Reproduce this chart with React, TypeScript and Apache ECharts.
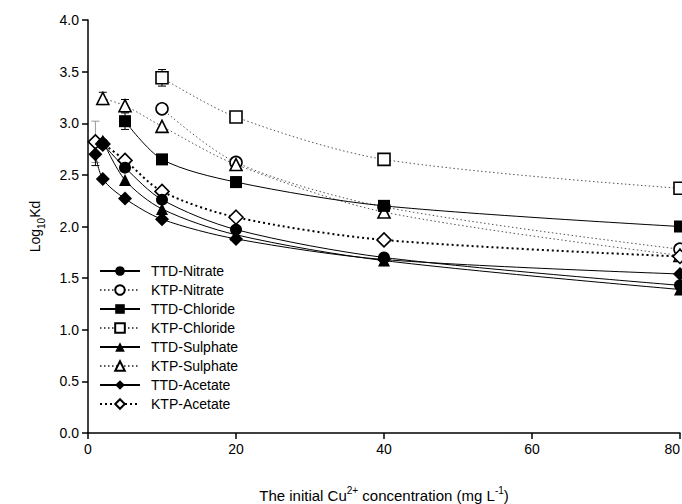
import React, { useEffect, useRef } from "react";
import * as echarts from "echarts";

// Data (x = initial Cu2+ concentration, mg/L; y = Log10 Kd)
const ttdNitrateX = [2, 5, 10, 20, 40, 80];
const ttdNitrateY = [2.8, 2.57, 2.26, 1.97, 1.7, 1.43];
const ktpNitrateX = [10, 20, 40, 80];
const ktpNitrateY = [3.14, 2.62, 2.19, 1.78];
const ttdChlorideX = [5, 10, 20, 40, 80];
const ttdChlorideY = [3.02, 2.65, 2.43, 2.2, 2.0];
const ttdChlorideErr = [0.08, 0, 0.05, 0, 0];
const ktpChlorideX = [10, 20, 40, 80];
const ktpChlorideY = [3.44, 3.06, 2.65, 2.37];
const ktpChlorideErr = [0.08, 0, 0, 0];
const ttdSulphateX = [2, 5, 10, 20, 40, 80];
const ttdSulphateY = [2.83, 2.45, 2.17, 1.92, 1.67, 1.39];
const ktpSulphateX = [2, 5, 10, 20, 40, 80];
const ktpSulphateY = [3.24, 3.17, 2.97, 2.6, 2.14, 1.72];
const ktpSulphateErr = [0.06, 0.06, 0, 0, 0, 0];
const ttdAcetateX = [1, 2, 5, 10, 20, 40, 80];
const ttdAcetateY = [2.7, 2.46, 2.27, 2.07, 1.88, 1.68, 1.54];
const ttdAcetateErr = [0.11, 0, 0, 0, 0, 0, 0];
const ktpAcetateX = [1, 2, 5, 10, 20, 40, 80];
const ktpAcetateY = [2.82, 2.8, 2.64, 2.34, 2.09, 1.87, 1.71];
const ktpAcetateErr = [0.2, 0, 0, 0, 0, 0, 0];

const seriesNames = [
  "TTD-Nitrate",
  "KTP-Nitrate",
  "TTD-Chloride",
  "KTP-Chloride",
  "TTD-Sulphate",
  "KTP-Sulphate",
  "TTD-Acetate",
  "KTP-Acetate",
];
const xTicks = [0, 20, 40, 60, 80];

const FONT = "Liberation Sans";

function pairs(xs: number[], ys: number[]) {
  return xs.map((x, i) => [x, ys[i]]);
}

function lineSeries(
  name: string,
  xs: number[],
  ys: number[],
  symbol: string,
  filled: boolean,
  dotted: boolean,
  bold: boolean
) {
  return {
    name,
    type: "line",
    data: pairs(xs, ys),
    smooth: 0.3,
    symbol,
    symbolSize: symbol === "circle" ? 12 : symbol === "diamond" ? 14 : 12,
    showAllSymbol: true,
    clip: false,
    lineStyle: {
      color: dotted && !bold ? "#555" : "#000",
      width: bold ? 2 : 1,
      type: dotted ? (bold ? [2, 3] : [1.5, 2.5]) : "solid",
    },
    itemStyle: {
      color: filled ? "#000" : "#fff",
      borderColor: "#000",
      borderWidth: filled ? 0 : 1.6,
    },
    z: filled ? 4 : 3,
  };
}

function errSeries(xs: number[], ys: number[], errs: number[], color: string) {
  const data = xs
    .map((x, i) => [x, ys[i], errs[i]])
    .filter((d) => d[2] > 0);
  return {
    type: "custom",
    silent: true,
    z: 1,
    data,
    renderItem: (params: any, api: any) => {
      const x = api.value(0);
      const y = api.value(1);
      const e = api.value(2);
      const top = api.coord([x, y + e]);
      const bot = api.coord([x, y - e]);
      const w = 4;
      const style = { stroke: color, lineWidth: 1 };
      return {
        type: "group",
        children: [
          { type: "line", shape: { x1: top[0], y1: top[1], x2: bot[0], y2: bot[1] }, style },
          { type: "line", shape: { x1: top[0] - w, y1: top[1], x2: top[0] + w, y2: top[1] }, style },
          { type: "line", shape: { x1: bot[0] - w, y1: bot[1], x2: bot[0] + w, y2: bot[1] }, style },
        ],
      };
    },
  };
}

export default function App() {
  const ref = useRef<HTMLDivElement>(null);
  useEffect(() => {
    if (!ref.current) return;
    const chart = echarts.init(ref.current, null, { renderer: "svg" });
    chart.setOption({
      animation: false,
      backgroundColor: "#fff",
      textStyle: { fontFamily: FONT },
      grid: { left: 88, right: 2, top: 20, bottom: 71, outerBoundsMode: "none", containLabel: false },
      legend: {
        data: seriesNames,
        orient: "vertical",
        left: 94,
        top: 259,
        itemWidth: 40,
        itemHeight: 12,
        itemGap: 5,
        textStyle: { fontFamily: FONT, fontSize: 14, color: "#000", padding: [0, 0, 0, 6] },
        selectedMode: false,
      },
      xAxis: {
        type: "value",
        min: 0,
        max: 80,
        interval: 20,
        name: "{t|The initial Cu}{s|2+}{t| concentration (mg L}{s|-1}{t|)}",
        nameLocation: "middle",
        nameGap: 52,
        nameTextStyle: {
          rich: {
            t: { fontFamily: FONT, fontSize: 15, color: "#000", lineHeight: 18, verticalAlign: "bottom" },
            s: { fontFamily: FONT, fontSize: 10, color: "#000", lineHeight: 18, verticalAlign: "top" },
          },
        },
        axisLine: { show: true, lineStyle: { color: "#000", width: 1.5 } },
        axisTick: { show: true, inside: false, length: 6, lineStyle: { color: "#000", width: 1.5 } },
        axisLabel: {
          fontFamily: FONT,
          fontSize: 14,
          color: "#000",
          margin: 9,
          alignMaxLabel: "right",
          formatter: (v: number) => (xTicks.includes(v) ? String(v) : ""),
        },
        splitLine: { show: false },
      },
      yAxis: {
        type: "value",
        min: 0,
        max: 4,
        interval: 0.5,
        name: "{t|Log}{s|10}{t|Kd}",
        nameLocation: "middle",
        nameRotate: 90,
        nameGap: 42,
        nameTextStyle: {
          rich: {
            t: { fontFamily: FONT, fontSize: 14, color: "#000", lineHeight: 18, verticalAlign: "top" },
            s: { fontFamily: FONT, fontSize: 10, color: "#000", lineHeight: 18, verticalAlign: "bottom" },
          },
        },
        axisLine: { show: true, lineStyle: { color: "#000", width: 1.5 } },
        axisTick: { show: true, inside: false, length: 6, lineStyle: { color: "#000", width: 1.5 } },
        axisLabel: {
          fontFamily: FONT,
          fontSize: 14,
          color: "#000",
          margin: 9,
          formatter: (v: number) => v.toFixed(1),
        },
        splitLine: { show: false },
      },
      series: [
        errSeries(ktpAcetateX, ktpAcetateY, ktpAcetateErr, "#999"),
        errSeries(ttdAcetateX, ttdAcetateY, ttdAcetateErr, "#000"),
        errSeries(ttdChlorideX, ttdChlorideY, ttdChlorideErr, "#000"),
        errSeries(ktpChlorideX, ktpChlorideY, ktpChlorideErr, "#000"),
        errSeries(ktpSulphateX, ktpSulphateY, ktpSulphateErr, "#000"),
        lineSeries("TTD-Nitrate", ttdNitrateX, ttdNitrateY, "circle", true, false, false),
        lineSeries("KTP-Nitrate", ktpNitrateX, ktpNitrateY, "circle", false, true, false),
        lineSeries("TTD-Chloride", ttdChlorideX, ttdChlorideY, "rect", true, false, false),
        lineSeries("KTP-Chloride", ktpChlorideX, ktpChlorideY, "rect", false, true, false),
        lineSeries("TTD-Sulphate", ttdSulphateX, ttdSulphateY, "triangle", true, false, false),
        lineSeries("KTP-Sulphate", ktpSulphateX, ktpSulphateY, "triangle", false, true, false),
        lineSeries("TTD-Acetate", ttdAcetateX, ttdAcetateY, "diamond", true, false, false),
        lineSeries("KTP-Acetate", ktpAcetateX, ktpAcetateY, "diamond", false, true, true),
      ],
    });
    return () => chart.dispose();
  }, []);
  return <div ref={ref} style={{ width: 682, height: 504, position: "absolute", left: 0, top: 0 }} />;
}
